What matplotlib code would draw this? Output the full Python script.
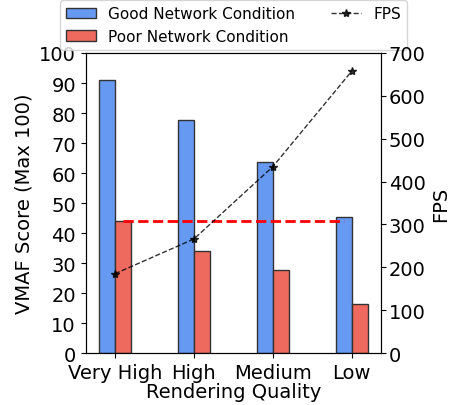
import numpy as np
import matplotlib as mpl
mpl.use('Agg')
import matplotlib.pyplot as plt

qualities = ['Very High', 'High', 'Medium', 'Low']
good_vmaf = [91.1, 77.6, 63.6, 45.2]
poor_vmaf = [44.0, 34.0, 27.7, 16.3]
fps = [185, 266, 435, 658]

x = np.arange(len(qualities))
w = 0.2
fs = 14

fig, ax = plt.subplots(figsize=(4.51, 4.06), dpi=100)

b1 = ax.bar(x - w/2, good_vmaf, width=w, color='#6699F2', edgecolor='#333333',
            lw=1, label='Good Network Condition')
b2 = ax.bar(x + w/2, poor_vmaf, width=w, color='#EF6A5E', edgecolor='#333333',
            lw=1, label='Poor Network Condition')
# reference level: poor network at very high quality
ax.hlines(poor_vmaf[0], x[0] + w/2, x[-1] - w/2, colors='red', linestyles='--', lw=2)

ax.set_ylim(0, 100)
ax.set_yticks(np.arange(0, 101, 10))
ax.set_xticks(x)
ax.set_xticklabels(qualities, fontsize=fs)
ax.tick_params(axis='y', labelsize=fs)
ax.set_ylabel('VMAF Score (Max 100)', fontsize=fs)
ax.set_xlabel('Rendering Quality', fontsize=fs, labelpad=0)

ax2 = ax.twinx()
l1, = ax2.plot(x, fps, 'k--*', lw=1, ms=6, alpha=0.8, label='FPS')
ax2.set_ylim(0, 700)
ax2.tick_params(axis='y', labelsize=fs, pad=2)
ax2.set_ylabel('FPS', fontsize=fs)

ax.legend([b1, b2, l1], ['Good Network Condition', 'Poor Network Condition', 'FPS'],
          ncol=2, loc='lower center', bbox_to_anchor=(0.5, 1.01), fontsize=11,
          borderaxespad=0, columnspacing=2.3)

fig.subplots_adjust(left=0.19, right=0.845, bottom=0.128, top=0.867)
plt.savefig('out.png', dpi=100)
